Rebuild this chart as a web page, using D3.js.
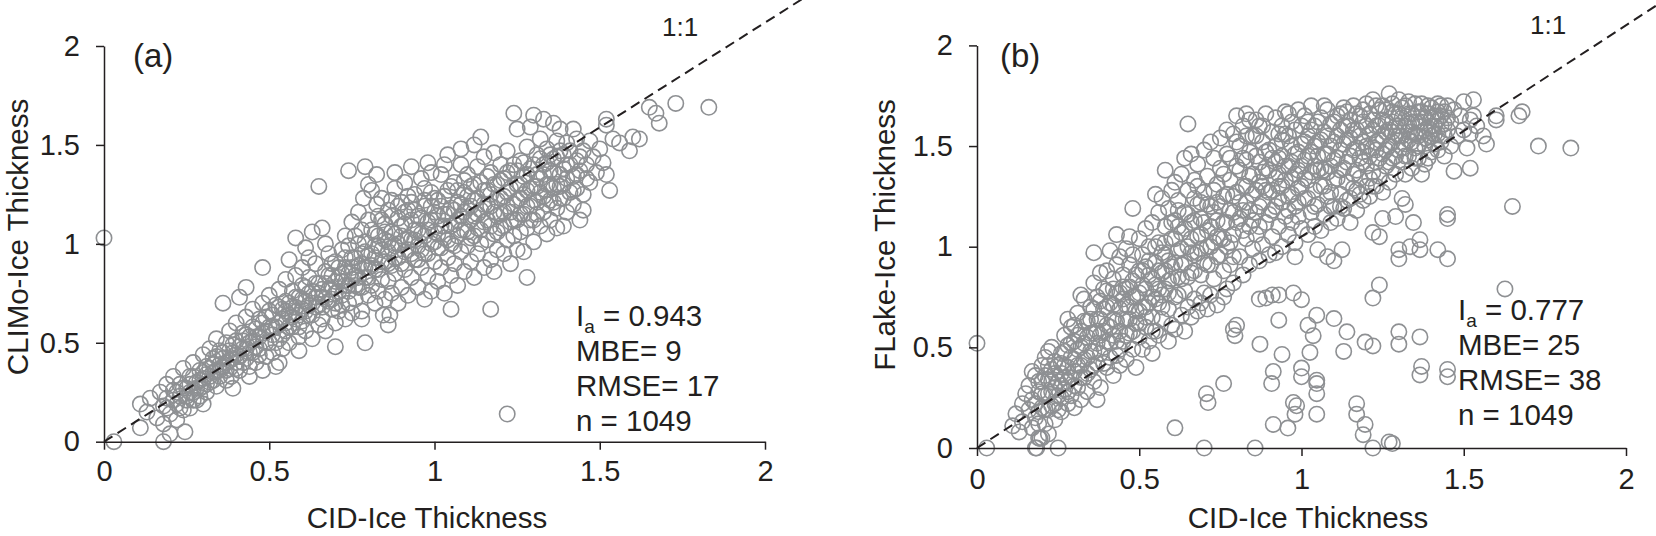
<!DOCTYPE html>
<meta charset="utf-8">
<head>
    <title>CID vs CLIMo / FLake ice thickness</title>
    <style>
        body { margin: 0; background: #fff; }
        text { font-family: "Liberation Sans", Arial, Helvetica, sans-serif; fill: #231f20; }
    </style>
</head>

<body>
    <div id="chart"></div>

    <script src="https://d3js.org/d3.v7.min.js"></script>

    <script>
        // ---- data ----
        let tickValues = [0, 0.5, 1, 1.5, 2];
        let panelNames = ['(a)', '(b)'];
        let yTitles = ['CLIMo-Ice Thickness', 'FLake-Ice Thickness'];
        let xTitle = 'CID-Ice Thickness';
        let statIa = ['0.943', '0.777'];
        let statMBE = ['9', '25'];
        let statRMSE = ['17', '38'];
        let statN = ['1049', '1049'];
        let lineLabel = '1:1';
        let oneToOneA = [[0, 0], [2.2, 2.33]];
        let oneToOneB = [[0, 0], [2.2, 2.31]];

        // (a) CID vs CLIMo
        let climoPoints = [
            [0.00,1.03],[0.03,0.00],
            [0.11,0.19],[0.11,0.07],[0.13,0.15],[0.14,0.22],
            [0.16,0.12],[0.17,0.25],[0.18,0.00],[0.18,0.09],[0.18,0.18],[0.19,0.29],[0.19,0.22],[0.20,0.14],
            [0.20,0.04],[0.21,0.26],[0.21,0.33],[0.22,0.19],[0.22,0.11],[0.23,0.29],[0.23,0.23],[0.24,0.37],[0.24,0.16],[0.245,0.05],[0.25,0.27],[0.25,0.21],
            [0.26,0.33],[0.26,0.17],[0.27,0.25],[0.27,0.40],[0.28,0.30],[0.28,0.21],[0.29,0.36],[0.29,0.27],[0.30,0.44],[0.30,0.19],[0.30,0.32],
            [0.31,0.38],[0.31,0.25],[0.32,0.47],[0.32,0.30],[0.33,0.35],[0.33,0.42],[0.34,0.28],[0.34,0.52],[0.35,0.39],[0.35,0.33],[0.35,0.46],
            [0.36,0.70],[0.36,0.42],[0.37,0.31],[0.37,0.50],[0.38,0.37],[0.38,0.56],[0.39,0.45],[0.39,0.27],[0.40,0.40],[0.40,0.60],[0.40,0.51],[0.385,0.33],
            [0.41,0.73],[0.43,0.78],[0.41,0.36],[0.42,0.47],[0.42,0.55],[0.43,0.42],[0.43,0.63],[0.44,0.33],[0.44,0.50],[0.45,0.58],[0.45,0.45],[0.45,0.67],[0.44,0.38],
            [0.48,0.88],[0.46,0.53],[0.46,0.40],[0.47,0.62],[0.47,0.47],[0.48,0.70],[0.48,0.36],[0.49,0.56],[0.49,0.43],[0.50,0.66],[0.50,0.50],[0.50,0.74],
            [0.51,0.58],[0.51,0.45],[0.52,0.69],[0.52,0.38],[0.53,0.52],[0.53,0.77],[0.54,0.62],[0.54,0.47],[0.55,0.71],[0.55,0.56],[0.53,0.40],[0.55,0.82],
            [0.56,0.92],[0.58,1.03],[0.56,0.50],[0.56,0.64],[0.57,0.76],[0.57,0.58],[0.58,0.84],[0.58,0.68],[0.59,0.53],[0.59,0.73],[0.60,0.61],[0.60,0.88],[0.60,0.79],[0.59,0.46],
            [0.61,0.98],[0.63,1.06],[0.66,1.08],[0.65,1.29],[0.61,0.56],[0.61,0.71],[0.62,0.83],[0.62,0.64],[0.63,0.52],[0.63,0.76],[0.64,0.90],[0.64,0.68],[0.65,0.59],[0.65,0.80],[0.62,0.93],
            [0.70,0.48],[0.66,0.73],[0.66,0.62],[0.67,0.86],[0.67,0.56],[0.68,0.77],[0.68,0.95],[0.69,0.67],[0.69,0.84],[0.70,0.60],[0.70,0.91],[0.70,0.75],[0.67,1.00],[0.69,0.72],
            [0.74,1.37],[0.71,0.83],[0.71,0.66],[0.72,0.97],[0.72,0.74],[0.73,0.62],[0.73,0.88],[0.73,1.04],[0.74,0.79],[0.74,0.70],[0.75,0.93],[0.75,1.11],[0.75,0.65],[0.72,0.81],[0.74,0.99],
            [0.79,0.50],[0.79,1.39],[0.80,1.30],[0.785,1.23],[0.77,1.16],[0.76,0.84],[0.76,0.72],[0.77,1.00],[0.77,0.78],[0.78,0.90],[0.78,0.66],[0.78,1.07],[0.79,0.83],[0.79,0.96],[0.80,0.74],[0.80,1.12],[0.80,0.88],[0.76,1.04],[0.78,0.62],
            [0.825,1.35],[0.825,1.20],[0.81,0.95],[0.81,0.79],[0.82,1.05],[0.82,0.70],[0.82,0.87],[0.83,1.14],[0.83,0.99],[0.83,0.76],[0.84,0.91],[0.84,1.23],[0.84,0.82],[0.85,1.02],[0.85,0.72],[0.85,1.10],[0.845,0.64],[0.81,1.27],
            [0.86,0.59],[0.865,0.64],[0.86,0.96],[0.86,0.81],[0.86,1.17],[0.87,0.89],[0.87,1.06],[0.87,0.75],[0.88,1.28],[0.88,0.99],[0.88,0.85],[0.89,1.13],[0.89,0.70],[0.89,0.93],[0.90,1.21],[0.90,1.04],[0.90,0.78],[0.88,1.36],[0.87,1.22],
            [0.91,0.87],[0.91,1.10],[0.91,1.31],[0.92,0.97],[0.92,0.74],[0.92,1.17],[0.93,1.02],[0.93,0.83],[0.93,1.39],[0.94,1.25],[0.94,0.92],[0.94,1.07],[0.95,0.78],[0.95,1.14],[0.95,0.99],[0.93,1.21],[0.91,1.02],
            [0.99,0.76],[0.96,0.88],[0.96,1.05],[0.96,1.33],[0.97,1.19],[0.97,0.95],[0.97,0.72],[0.98,1.11],[0.98,1.41],[0.98,0.84],[0.99,1.00],[0.99,1.26],[1.00,0.91],[1.00,1.16],[1.00,1.06],[0.97,1.28],[0.99,1.36],
            [1.04,1.45],[1.05,0.67],[1.01,0.81],[1.01,1.22],[1.01,0.98],[1.02,1.09],[1.02,1.35],[1.02,0.88],[1.03,1.15],[1.03,0.75],[1.03,1.03],[1.04,1.27],[1.04,0.93],[1.05,1.18],[1.05,1.00],[1.05,0.84],[1.03,1.40],
            [1.06,1.10],[1.06,1.31],[1.06,0.90],[1.07,1.21],[1.07,0.79],[1.07,1.04],[1.08,1.40],[1.08,0.96],[1.08,1.14],[1.09,1.26],[1.09,0.86],[1.09,1.07],[1.10,1.18],[1.10,1.35],[1.10,0.99],[1.08,1.48],
            [1.14,1.54],[1.12,1.50],[1.17,0.67],[1.11,0.91],[1.11,1.12],[1.11,1.29],[1.12,1.04],[1.12,0.83],[1.12,1.22],[1.13,1.39],[1.13,0.95],[1.13,1.15],[1.14,1.07],[1.14,1.31],[1.15,0.88],[1.15,1.20],[1.15,1.44],
            [1.16,1.02],[1.16,1.27],[1.16,1.12],[1.17,1.36],[1.17,0.92],[1.17,1.19],[1.18,1.05],[1.18,1.46],[1.18,0.86],[1.19,1.30],[1.19,1.14],[1.19,0.97],[1.20,1.23],[1.20,1.40],[1.20,1.08],
            [1.24,1.66],[1.25,1.58],[1.22,0.14],[1.21,0.95],[1.21,1.16],[1.21,1.33],[1.22,1.02],[1.22,1.26],[1.22,1.47],[1.23,1.11],[1.23,0.90],[1.23,1.37],[1.24,1.20],[1.24,1.04],[1.25,1.30],[1.25,1.12],[1.25,0.97],
            [1.28,0.83],[1.29,1.59],[1.30,1.65],[1.26,1.42],[1.26,1.23],[1.26,1.06],[1.27,1.34],[1.27,0.96],[1.27,1.15],[1.28,1.27],[1.28,1.49],[1.28,1.08],[1.29,1.19],[1.29,1.38],[1.30,1.01],[1.30,1.29],[1.30,1.12],
            [1.33,1.63],[1.36,1.61],[1.34,1.05],[1.31,1.45],[1.31,1.21],[1.31,1.35],[1.32,1.09],[1.32,1.53],[1.32,1.26],[1.33,1.16],[1.33,1.40],[1.34,1.30],[1.34,1.48],[1.35,1.22],[1.35,1.12],[1.35,1.37],
            [1.37,1.08],[1.39,1.09],[1.36,1.43],[1.36,1.28],[1.37,1.52],[1.37,1.18],[1.38,1.35],[1.38,1.23],[1.38,1.58],[1.39,1.45],[1.39,1.30],[1.40,1.16],[1.40,1.40],[1.40,1.51],
            [1.42,1.58],[1.45,1.17],[1.44,1.12],[1.41,1.26],[1.41,1.47],[1.42,1.34],[1.42,1.20],[1.43,1.42],[1.43,1.53],[1.43,1.28],[1.44,1.37],[1.45,1.47],[1.45,1.25],
            [1.46,1.40],[1.47,1.31],[1.47,1.52],[1.48,1.44],[1.49,1.36],[1.50,1.48],[1.52,1.60],[1.53,1.27],[1.54,1.53],[1.51,1.41],[1.52,1.35],
            [1.56,1.51],[1.59,1.47],[1.60,1.54],[1.62,1.53],[1.65,1.69],[1.67,1.66],[1.68,1.61],[1.73,1.71],[1.83,1.69],[1.52,1.63],
            // dense core of the band
            [0.19,0.17],[0.21,0.21],[0.22,0.25],[0.23,0.17],[0.24,0.27],[0.25,0.23],[0.26,0.25],[0.26,0.29],[0.27,0.21],[0.27,0.33],
            [0.28,0.27],[0.29,0.31],[0.29,0.23],[0.30,0.28],[0.30,0.35],[0.31,0.29],[0.31,0.34],[0.32,0.37],[0.32,0.33],[0.33,0.31],
            [0.33,0.39],[0.34,0.36],[0.34,0.43],[0.35,0.36],[0.36,0.38],[0.36,0.45],[0.37,0.40],[0.37,0.36],[0.38,0.46],[0.38,0.41],
            [0.39,0.42],[0.39,0.49],[0.40,0.44],[0.40,0.37],[0.41,0.48],[0.41,0.43],[0.42,0.51],[0.42,0.40],[0.43,0.47],[0.43,0.54],
            [0.44,0.45],[0.44,0.53],[0.45,0.51],[0.46,0.48],[0.46,0.57],[0.47,0.53],[0.47,0.44],[0.48,0.55],[0.48,0.60],[0.49,0.50],
            [0.49,0.63],[0.50,0.58],[0.51,0.54],[0.51,0.64],[0.52,0.58],[0.52,0.50],[0.53,0.60],[0.53,0.68],[0.54,0.54],[0.54,0.67],
            [0.55,0.60],[0.55,0.66],[0.56,0.58],[0.56,0.70],[0.57,0.63],[0.57,0.68],[0.58,0.62],[0.58,0.73],[0.59,0.64],[0.59,0.58],
            [0.60,0.67],[0.60,0.72],[0.61,0.66],[0.61,0.78],[0.62,0.69],[0.62,0.75],[0.63,0.70],[0.63,0.64],[0.64,0.73],[0.64,0.80],
            [0.65,0.69],[0.65,0.75],[0.66,0.77],[0.66,0.68],[0.67,0.72],[0.67,0.80],[0.68,0.71],[0.68,0.84],[0.69,0.78],[0.69,0.90],
            [0.70,0.81],[0.70,0.70],[0.71,0.76],[0.71,0.88],[0.72,0.85],[0.72,0.69],[0.73,0.79],[0.73,0.93],[0.74,0.85],[0.74,0.76],
            [0.75,0.82],[0.75,0.88],[0.76,0.79],[0.76,0.93],[0.77,0.89],[0.77,0.83],[0.78,0.78],[0.78,0.95],[0.79,0.88],[0.79,1.01],
            [0.80,0.94],[0.80,0.83],[0.81,0.89],[0.81,1.07],[0.82,0.93],[0.82,0.99],[0.83,0.87],[0.83,1.04],[0.84,0.97],[0.84,1.12],
            [0.85,0.91],[0.85,1.06],[0.86,1.01],[0.86,0.90],[0.87,0.98],[0.87,1.14],[0.88,1.05],[0.88,0.93],[0.89,1.00],[0.89,1.19],
            [0.90,1.09],[0.90,0.90],[0.91,0.96],[0.91,1.16],[0.92,1.03],[0.92,1.24],[0.93,0.95],[0.93,1.12],[0.94,1.02],[0.94,1.17],
            [0.95,1.07],[0.95,0.92],[0.96,1.13],[0.96,0.97],[0.97,1.04],[0.97,1.22],[0.98,0.95],[0.98,1.07],[0.99,1.12],[0.99,1.19],
            [1.00,1.01],[1.00,1.23],[1.01,1.05],[1.01,1.14],[1.02,0.98],[1.02,1.19],[1.03,1.09],[1.03,1.24],[1.04,1.02],[1.04,1.15],
            [1.05,1.09],[1.05,1.29],[1.06,1.17],[1.06,0.99],[1.07,1.12],[1.07,1.27],[1.08,1.07],[1.08,1.20],[1.09,1.16],[1.09,1.32],
            [1.10,1.06],[1.10,1.24],[1.11,1.19],[1.11,1.03],[1.12,1.14],[1.12,1.30],[1.13,1.08],[1.13,1.23],[1.14,1.17],[1.14,1.00],
            [1.15,1.27],[1.15,1.11],[1.16,1.20],[1.16,1.34],[1.17,1.09],[1.17,1.25],[1.18,1.16],[1.18,1.30],[1.19,1.22],[1.19,1.06],
            [1.20,1.15],[1.20,1.32],[1.21,1.24],[1.21,1.09],[1.22,1.19],[1.22,1.36],[1.23,1.28],[1.23,1.16],[1.24,1.40],[1.24,1.12],
            [1.25,1.22],[1.25,1.37],[1.26,1.15],[1.26,1.30],[1.27,1.25],[1.27,1.41],[1.28,1.19],[1.28,1.35],[1.29,1.28],[1.29,1.12],
            [1.30,1.22],[1.30,1.40],[1.31,1.29],[1.31,1.15],[1.32,1.33],[1.32,1.43],[1.33,1.24],[1.33,1.35],[1.34,1.20],[1.34,1.41],
            [1.35,1.30],[1.35,1.45],[1.36,1.36],[1.36,1.21],[1.37,1.30],[1.37,1.44],[1.38,1.29],[1.38,1.47],[1.39,1.38],[1.39,1.23],
            [1.40,1.33],[1.41,1.40],[1.42,1.27],[1.43,1.35],[1.44,1.44],[1.46,1.33]
        ];

        // (b) CID vs FLake
        let flakePoints = [
            [0.00,0.52],[0.03,0.00],
            [0.11,0.11],[0.12,0.17],[0.13,0.08],[0.14,0.22],[0.14,0.13],[0.15,0.27],
            [0.16,0.19],[0.16,0.31],[0.17,0.10],[0.17,0.24],[0.18,0.00],[0.18,0.36],[0.18,0.15],[0.19,0.05],[0.19,0.28],[0.20,0.41],[0.20,0.20],[0.19,0.33],[0.17,0.38],
            [0.21,0.12],[0.21,0.26],[0.21,0.45],[0.22,0.34],[0.22,0.07],[0.22,0.19],[0.23,0.39],[0.23,0.28],[0.23,0.50],[0.24,0.14],[0.24,0.22],[0.24,0.43],[0.25,0.00],[0.25,0.33],[0.25,0.26],[0.20,0.05],[0.22,0.48],
            [0.26,0.47],[0.26,0.18],[0.26,0.37],[0.27,0.56],[0.27,0.29],[0.27,0.41],[0.28,0.22],[0.28,0.51],[0.28,0.33],[0.29,0.60],[0.29,0.45],[0.29,0.26],[0.30,0.38],[0.30,0.53],[0.30,0.20],[0.28,0.64],
            [0.31,0.30],[0.31,0.49],[0.31,0.67],[0.32,0.41],[0.32,0.58],[0.32,0.24],[0.33,0.74],[0.33,0.35],[0.33,0.52],[0.34,0.63],[0.34,0.45],[0.34,0.28],[0.35,0.70],[0.35,0.39],[0.35,0.57],[0.32,0.76],
            [0.36,0.97],[0.36,0.48],[0.36,0.82],[0.36,0.33],[0.37,0.64],[0.37,0.75],[0.37,0.42],[0.38,0.56],[0.38,0.87],[0.38,0.30],[0.39,0.69],[0.39,0.50],[0.39,0.79],[0.40,0.61],[0.40,0.40],[0.40,0.88],[0.37,0.24],[0.38,0.73],
            [0.41,0.98],[0.43,1.06],[0.41,0.72],[0.41,0.52],[0.42,0.84],[0.42,0.36],[0.42,0.64],[0.43,0.46],[0.43,0.77],[0.43,0.91],[0.44,0.58],[0.44,0.69],[0.44,0.41],[0.45,0.86],[0.45,0.53],[0.45,0.74],[0.44,0.95],[0.42,0.79],
            [0.46,0.99],[0.48,1.19],[0.50,1.04],[0.46,0.64],[0.46,0.79],[0.46,0.44],[0.47,0.91],[0.47,0.57],[0.47,0.70],[0.48,0.49],[0.48,0.83],[0.48,0.96],[0.49,0.62],[0.49,0.75],[0.49,0.40],[0.50,0.88],[0.50,0.55],[0.50,0.68],[0.47,1.05],
            [0.55,1.26],[0.51,0.81],[0.51,0.96],[0.51,0.49],[0.52,0.70],[0.52,1.09],[0.52,0.60],[0.53,0.86],[0.53,1.00],[0.53,0.53],[0.54,0.75],[0.54,0.65],[0.54,1.12],[0.55,0.92],[0.55,0.58],[0.55,0.81],[0.52,0.90],[0.54,0.47],
            [0.56,1.17],[0.58,1.38],[0.56,0.72],[0.56,1.02],[0.56,0.56],[0.57,0.87],[0.57,1.24],[0.57,0.64],[0.58,0.96],[0.58,0.79],[0.58,1.10],[0.59,0.53],[0.59,0.69],[0.59,1.19],[0.60,0.90],[0.60,1.04],[0.60,0.61],[0.57,0.76],[0.59,0.83],[0.60,1.28],
            [0.61,1.32],[0.64,1.44],[0.65,1.61],[0.61,0.75],[0.61,1.13],[0.61,0.59],[0.62,0.98],[0.62,0.85],[0.62,1.23],[0.63,0.66],[0.63,1.07],[0.63,0.91],[0.63,1.36],[0.64,0.78],[0.64,1.17],[0.64,0.58],[0.65,1.00],[0.65,0.70],[0.65,1.28],[0.62,1.18],
            [0.66,1.46],[0.66,0.87],[0.66,1.12],[0.66,0.65],[0.67,1.33],[0.67,0.96],[0.67,0.74],[0.68,1.21],[0.68,1.05],[0.68,1.41],[0.68,0.68],[0.69,0.86],[0.69,1.14],[0.69,0.99],[0.70,1.27],[0.70,0.77],[0.70,1.48],[0.67,1.24],[0.69,0.72],
            [0.71,1.08],[0.71,0.91],[0.71,1.35],[0.72,1.20],[0.72,0.76],[0.72,1.00],[0.73,1.44],[0.73,0.84],[0.73,1.28],[0.74,1.13],[0.74,0.71],[0.74,0.95],[0.75,1.54],[0.75,1.39],[0.75,1.04],[0.72,1.52],[0.74,1.22],[0.71,0.69],
            [0.76,0.88],[0.76,1.25],[0.76,1.12],[0.77,1.46],[0.77,0.79],[0.77,1.00],[0.78,1.33],[0.78,1.18],[0.78,0.91],[0.79,1.56],[0.79,1.06],[0.79,0.82],[0.80,1.65],[0.80,1.40],[0.80,1.27],[0.77,1.58],[0.79,1.17],[0.76,0.75],
            [0.83,1.66],[0.81,0.95],[0.81,1.14],[0.81,1.50],[0.82,1.30],[0.82,0.86],[0.82,1.60],[0.83,1.04],[0.83,1.22],[0.83,1.43],[0.84,0.91],[0.84,1.35],[0.84,1.10],[0.85,1.55],[0.85,1.26],[0.85,0.99],[0.84,1.63],[0.82,1.18],
            [0.86,1.45],[0.86,1.06],[0.86,1.17],[0.87,1.60],[0.87,0.93],[0.87,1.32],[0.88,1.22],[0.88,1.52],[0.88,1.01],[0.89,1.39],[0.89,1.12],[0.89,1.66],[0.90,1.27],[0.90,0.96],[0.90,1.48],[0.86,1.63],[0.88,1.37],[0.87,1.10],
            [0.91,1.18],[0.91,1.57],[0.91,1.05],[0.92,1.34],[0.92,1.64],[0.92,0.97],[0.93,1.44],[0.93,1.24],[0.93,1.10],[0.94,1.53],[0.94,1.00],[0.94,1.30],[0.95,1.67],[0.95,1.15],[0.95,1.40],[0.92,1.50],[0.94,1.60],[0.93,1.36],
            [0.96,1.06],[0.96,1.25],[0.96,1.55],[0.97,1.34],[0.97,1.62],[0.97,1.12],[0.98,1.46],[0.98,1.02],[0.98,1.20],[0.99,1.68],[0.99,1.38],[0.99,1.29],[1.00,1.09],[1.00,1.51],[1.00,1.60],[0.97,1.42],[0.99,1.15],[0.96,1.66],
            [1.01,1.24],[1.01,1.43],[1.01,1.65],[1.02,1.06],[1.02,1.33],[1.02,1.55],[1.03,1.17],[1.03,1.47],[1.03,1.70],[1.04,1.28],[1.04,1.60],[1.04,1.10],[1.05,1.38],[1.05,1.52],[1.05,1.21],[1.02,1.62],[1.04,1.40],
            [1.06,1.64],[1.06,1.08],[1.06,1.30],[1.07,1.46],[1.07,1.16],[1.07,1.57],[1.08,1.25],[1.08,1.68],[1.08,1.37],[1.09,1.12],[1.09,1.50],[1.09,1.61],[1.10,1.33],[1.10,1.20],[1.10,1.43],[1.07,1.70],[1.09,1.27],
            [1.11,1.55],[1.11,1.65],[1.11,1.14],[1.12,1.38],[1.12,1.26],[1.12,1.48],[1.13,1.60],[1.13,1.19],[1.13,1.69],[1.14,1.32],[1.14,1.53],[1.14,1.42],[1.15,1.24],[1.15,1.63],[1.15,1.12],[1.12,1.58],[1.14,1.67],
            [1.16,1.36],[1.16,1.48],[1.16,1.70],[1.17,1.28],[1.17,1.58],[1.17,1.18],[1.18,1.44],[1.18,1.65],[1.18,1.34],[1.19,1.52],[1.19,1.23],[1.19,1.62],[1.20,1.40],[1.20,1.71],[1.20,1.30],[1.17,1.66],[1.19,1.47],
            [1.21,1.56],[1.21,1.25],[1.21,1.66],[1.22,1.37],[1.22,1.49],[1.22,1.73],[1.23,1.60],[1.23,1.30],[1.23,1.42],[1.24,1.68],[1.24,1.53],[1.24,1.35],[1.25,1.46],[1.25,1.63],[1.25,1.27],[1.23,1.70],[1.22,1.58],
            [1.26,1.40],[1.26,1.57],[1.26,1.68],[1.27,1.76],[1.27,1.32],[1.27,1.50],[1.28,1.62],[1.28,1.44],[1.28,1.71],[1.29,1.36],[1.29,1.55],[1.29,1.66],[1.30,1.48],[1.30,1.73],[1.30,1.60],[1.28,1.52],
            [1.31,1.42],[1.31,1.64],[1.31,1.55],[1.32,1.70],[1.32,1.36],[1.32,1.51],[1.33,1.61],[1.33,1.45],[1.33,1.72],[1.34,1.57],[1.34,1.39],[1.34,1.66],[1.35,1.49],[1.35,1.62],[1.35,1.71],[1.33,1.53],
            [1.37,1.36],[1.36,1.55],[1.36,1.67],[1.36,1.44],[1.37,1.62],[1.37,1.71],[1.38,1.50],[1.38,1.58],[1.38,1.41],[1.39,1.66],[1.39,1.53],[1.40,1.47],[1.40,1.69],[1.40,1.60],[1.39,1.44],
            [1.41,1.56],[1.41,1.65],[1.42,1.48],[1.42,1.71],[1.43,1.60],[1.43,1.52],[1.44,1.67],[1.44,1.45],[1.45,1.58],[1.45,1.70],[1.42,1.63],[1.44,1.55],
            [1.46,1.62],[1.46,1.50],[1.47,1.68],[1.47,1.375],[1.48,1.55],[1.49,1.65],[1.50,1.72],[1.50,1.58],[1.51,1.49],[1.52,1.63],[1.52,1.39],[1.53,1.73],[1.53,1.65],[1.52,1.56],[1.54,1.60],
            [1.56,1.55],[1.57,1.51],[1.60,1.63],[1.60,1.65],[1.67,1.65],[1.68,1.67],[1.73,1.50],[1.83,1.49],[1.65,1.20],[1.45,1.16],[1.31,1.24],
            // dense core of the band
            [0.18,0.22],[0.19,0.18],[0.19,0.12],[0.20,0.27],[0.20,0.33],[0.21,0.19],[0.21,0.36],[0.22,0.27],[0.22,0.41],[0.23,0.21],
            [0.23,0.33],[0.24,0.30],[0.24,0.37],[0.25,0.41],[0.25,0.19],[0.26,0.31],[0.26,0.42],[0.26,0.25],[0.27,0.35],[0.27,0.48],
            [0.28,0.40],[0.28,0.28],[0.29,0.35],[0.29,0.52],[0.30,0.44],[0.30,0.31],[0.30,0.61],
            [0.31,0.41],[0.31,0.56],[0.32,0.35],[0.32,0.50],[0.33,0.44],[0.33,0.63],[0.34,0.37],[0.34,0.55],[0.35,0.48],[0.35,0.64],
            [0.36,0.41],[0.36,0.57],[0.36,0.69],[0.37,0.52],[0.37,0.58],[0.38,0.47],[0.38,0.64],[0.39,0.58],[0.39,0.42],[0.40,0.53],
            [0.40,0.70],[0.40,0.78],[0.41,0.60],[0.41,0.45],[0.42,0.56],[0.42,0.71],[0.43,0.63],[0.43,0.53],[0.44,0.77],[0.44,0.49],
            [0.45,0.64],[0.45,0.80],[0.46,0.56],[0.46,0.71],[0.47,0.64],[0.47,0.80],[0.48,0.58],[0.48,0.75],[0.49,0.68],[0.49,0.86],
            [0.50,0.62],[0.50,0.77],
            [0.51,0.70],[0.51,0.88],[0.52,0.79],[0.52,0.65],[0.53,0.72],[0.53,0.93],[0.54,0.84],[0.54,0.58],[0.55,0.74],[0.55,1.00],
            [0.56,0.88],[0.56,0.79],[0.57,0.97],[0.57,0.70],[0.58,0.88],[0.58,1.02],[0.59,0.77],[0.59,0.93],[0.60,0.84],[0.60,1.12],
            [0.61,0.92],[0.61,1.04],[0.62,0.76],[0.62,1.10],[0.63,0.84],[0.63,0.99],[0.64,1.09],[0.64,0.92],[0.65,0.85],[0.65,1.16],
            [0.66,0.97],[0.66,1.04],[0.67,0.88],[0.67,1.13],[0.68,0.97],[0.68,1.30],[0.69,1.06],[0.69,1.22],[0.70,0.92],[0.70,1.12],
            [0.71,1.00],[0.71,1.21],[0.72,1.10],[0.72,0.91],[0.73,1.17],[0.73,1.02],[0.74,1.31],[0.74,1.05],[0.75,0.96],[0.75,1.20],
            [0.76,1.04],[0.76,1.36],[0.77,1.12],[0.77,1.26],[0.78,1.02],[0.78,1.44],[0.79,1.25],[0.79,0.95],[0.80,1.12],[0.80,1.52],
            [0.81,1.22],[0.81,1.38],[0.82,1.08],[0.82,1.44],[0.83,1.30],[0.83,1.55],[0.84,1.18],[0.84,1.47],[0.85,1.36],[0.85,1.13],
            [0.86,1.28],[0.86,1.55],[0.87,1.42],[0.87,1.20],[0.88,1.30],[0.88,1.60],[0.89,1.47],[0.89,1.28],[0.90,1.38],[0.90,1.16],
            [0.91,1.44],[0.91,1.28],[0.92,1.20],[0.92,1.42],[0.93,1.56],[0.93,1.30],[0.94,1.45],[0.94,1.22],[0.95,1.33],[0.95,1.56],
            [0.96,1.40],[0.96,1.18],[0.97,1.50],[0.97,1.26],[0.98,1.36],[0.98,1.58],[0.99,1.47],[0.99,1.22],[1.00,1.40],[1.00,1.30],
            [1.01,1.52],[1.01,1.34],[1.02,1.45],[1.02,1.24],[1.03,1.58],[1.03,1.37],[1.04,1.50],[1.04,1.20],[1.05,1.45],[1.05,1.62],
            [1.06,1.39],[1.06,1.53],[1.07,1.30],[1.07,1.38],[1.08,1.55],[1.08,1.46],[1.09,1.40],[1.09,1.20],[1.10,1.52],[1.10,1.62],
            [1.11,1.34],[1.11,1.44],[1.12,1.66],[1.12,1.20],[1.13,1.51],[1.13,1.39],[1.14,1.60],[1.14,1.23],[1.15,1.45],[1.15,1.54],
            [1.16,1.58],[1.16,1.29],[1.17,1.49],[1.17,1.38],[1.18,1.55],[1.18,1.26],[1.19,1.42],[1.19,1.68],[1.20,1.50],[1.20,1.60],
            [1.21,1.45],[1.21,1.34],[1.22,1.63],[1.22,1.30],[1.23,1.52],[1.23,1.48],[1.24,1.60],[1.24,1.44],[1.25,1.55],[1.25,1.70],
            [1.26,1.48],[1.26,1.62],[1.27,1.58],[1.27,1.42],[1.28,1.67],[1.28,1.57],[1.29,1.45],[1.29,1.60],[1.30,1.55],[1.30,1.66],
            [1.31,1.49],[1.31,1.69],[1.32,1.60],[1.32,1.45],[1.33,1.66],[1.33,1.57],[1.34,1.52],[1.34,1.62],[1.35,1.56],[1.35,1.44],
            [1.36,1.62],[1.36,1.50],[1.37,1.57],[1.37,1.67],[1.38,1.64],[1.38,1.54],[1.39,1.59],[1.39,1.70],[1.40,1.55],[1.40,1.64],
            [1.41,1.60],[1.41,1.51],[1.42,1.67],[1.42,1.56],[1.43,1.65],[1.43,1.70],[1.44,1.61],[1.45,1.64],
            // points well below the 1:1 line
            [1.22,1.07],[1.25,1.14],[1.29,1.15],[1.32,1.21],[1.345,1.12],[1.24,1.05],[1.30,0.985],[1.335,1.00],[1.365,0.985],[1.30,0.94],
            [1.42,0.985],[1.45,0.94],[1.45,1.14],[1.365,1.035],[1.05,0.985],[1.08,0.95],[1.10,0.93],[1.125,0.985],[0.98,0.95],[1.24,0.81],
            [1.22,0.745],[0.89,0.745],[0.91,0.76],[0.975,0.77],[1.00,0.737],[0.87,0.74],[0.93,0.76],[1.047,0.66],[1.10,0.643],[1.02,0.61],
            [1.036,0.558],[1.14,0.577],[0.93,0.635],[0.795,0.558],[0.872,0.516],[0.94,0.465],[1.026,0.475],[1.13,0.48],[1.196,0.526],[1.22,0.507],
            [1.30,0.516],[1.30,0.577],[1.365,0.552],[1.365,0.363],[1.45,0.354],[0.76,0.32],[0.908,0.32],[1.00,0.354],[1.047,0.32],[1.047,0.27],
            [0.712,0.226],[0.985,0.21],[0.98,0.168],[1.047,0.168],[0.913,0.117],[0.958,0.099],[1.17,0.168],[1.19,0.066],[1.28,0.022],[1.37,0.405],
            [1.45,0.39],[1.627,0.79],[0.857,0.00],[1.22,0.00],[1.27,0.03],[0.975,0.226],[1.17,0.22],[1.196,0.117],[0.913,0.38],[1.00,0.397],
            [1.047,0.337],[0.61,0.10],[0.70,0.00],[0.707,0.27],[0.79,0.59],[0.80,0.61],[0.184,0.00],[0.194,0.047]
        ];

        // ---- layout ----
        let svgWidth = 1656;
        let svgHeight = 536;
        let inkColor = '#231f20';
        let pointColor = '#8e9093';

        let panels = [
            { points: climoPoints, line: oneToOneA, left: 104, right: 765, top: 46, bottom: 441.7,
              xPad: 11, yTitleX: 28, yTitleY: 237, xTitleX: 427, xTitleY: 528,
              nameX: 133, nameY: 67, lineLabelX: 662, lineLabelY: 35.5, statX: 576, statY: 326 },
            { points: flakePoints, line: oneToOneB, left: 977, right: 1626, top: 45.4, bottom: 448,
              xPad: 12, yTitleX: 895, yTitleY: 235, xTitleX: 1308, xTitleY: 528,
              nameX: 1000, nameY: 67, lineLabelX: 1530, lineLabelY: 34, statX: 1458, statY: 320 }
        ];

        let svg = d3.select('#chart')
            .append('svg')
            .attr('width', svgWidth)
            .attr('height', svgHeight)
            .style('display', 'block');

        panels.forEach(function (p, i) {
            let x = d3.scaleLinear().domain([0, 2]).range([p.left, p.right]);
            let y = d3.scaleLinear().domain([0, 2]).range([p.bottom, p.top]);
            let g = svg.append('g');

            // points
            g.append('g').selectAll('circle')
                .data(p.points)
                .enter()
                .append('circle')
                .attr('cx', d => x(d[0]))
                .attr('cy', d => y(d[1]))
                .attr('r', 7.7)
                .attr('fill', 'none')
                .attr('stroke', pointColor)
                .attr('stroke-width', 1.6);

            // axes
            let yAxis = g.append('g')
                .attr('transform', `translate(${p.left},0)`)
                .call(d3.axisLeft(y).tickValues(tickValues).tickSize(8).tickSizeOuter(0)
                    .tickPadding(16).tickFormat(d3.format('')));
            let xAxis = g.append('g')
                .attr('transform', `translate(0,${p.bottom})`)
                .call(d3.axisBottom(x).tickValues(tickValues).tickSize(8).tickSizeOuter(0)
                    .tickPadding(p.xPad).tickFormat(d3.format('')));
            [yAxis, xAxis].forEach(function (a) {
                a.attr('color', inkColor).attr('font-family', null).attr('font-size', null);
                a.selectAll('path, line').attr('stroke-width', 1.5);
                a.selectAll('text').style('font-size', '29px');
            });

            // 1:1 line
            g.append('path')
                .datum(p.line)
                .attr('d', d3.line().x(d => x(d[0])).y(d => y(d[1])))
                .attr('fill', 'none')
                .attr('stroke', inkColor)
                .attr('stroke-width', 2)
                .attr('stroke-dasharray', '10,6');

            g.append('text')
                .attr('x', p.lineLabelX)
                .attr('y', p.lineLabelY)
                .style('font-size', '26px')
                .text(lineLabel);

            // panel name
            g.append('text')
                .attr('x', p.nameX)
                .attr('y', p.nameY)
                .style('font-size', '33px')
                .text(panelNames[i]);

            // axis titles
            g.append('text')
                .attr('transform', `translate(${p.yTitleX},${p.yTitleY}) rotate(-90)`)
                .attr('text-anchor', 'middle')
                .style('font-size', '29.5px')
                .text(yTitles[i]);
            g.append('text')
                .attr('x', p.xTitleX)
                .attr('y', p.xTitleY)
                .attr('text-anchor', 'middle')
                .style('font-size', '29.5px')
                .text(xTitle);

            // statistics
            let ia = g.append('text')
                .attr('x', p.statX)
                .attr('y', p.statY)
                .style('font-size', '29.5px');
            ia.append('tspan').text('I');
            ia.append('tspan').attr('dy', 7).style('font-size', '19px').text('a');
            ia.append('tspan').attr('dy', -7).text(' = ' + statIa[i]);

            let lines = ['MBE= ' + statMBE[i], 'RMSE= ' + statRMSE[i], 'n = ' + statN[i]];
            lines.forEach(function (t, k) {
                g.append('text')
                    .attr('x', p.statX)
                    .attr('y', p.statY + 35 * (k + 1))
                    .style('font-size', '29.5px')
                    .text(t);
            });
        });
    </script>
</body>
